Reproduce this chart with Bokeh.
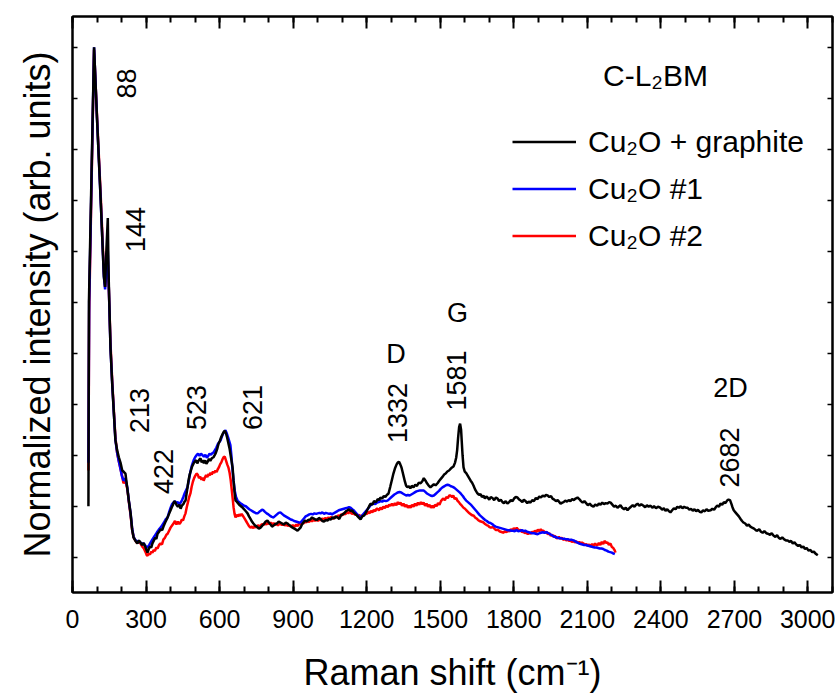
from bokeh.plotting import figure
from bokeh.models import (Range1d, FixedTicker, LinearAxis, Label, Legend,
                          LegendItem, CustomJSTickFormatter, Title)
from bokeh.embed import file_html
from bokeh.resources import INLINE
import math

# ---------------- data (Raman shift cm^-1, normalized intensity) ----------------
cu2o_graphite = [
 (65,.10),(67,.50),(88,1.00),(100,.86),(115,.70),(128,.55),(133,.53),(138,.60),(144,.665),(147,.56),
 (150,.50),(155,.41),(162,.34),(169,.28),(175,.23),(182,.21),(189,.196),(196,.185),(203,.17),(210,.167),
 (216,.164),(223,.137),(230,.11),(237,.086),(243,.055),(249,.039),(257,.032),(265,.027),(271,.033),(277,.029),
 (284,.024),(290,.028),(298,.019),(306,.009),(311,.016),(316,.021),(321,.019),(326,.027),(332,.033),(337,.038),
 (342,.036),(347,.046),(353,.050),(360,.055),(366,.053),(371,.060),(378,.068),(385,.075),(392,.083),(400,.092),
 (405,.098),(410,.103),(415,.110),(420,.107),(425,.102),(430,.099),(436,.103),(441,.095),(446,.101),(452,.104),
 (457,.109),(461,.111),(467,.130),(473,.150),(478,.162),(483,.170),(488,.178),(494,.184),(500,.188),(505,.190),
 (509,.184),(513,.188),(518,.192),(522,.194),(527,.186),(531,.190),(536,.184),(541,.190),(546,.183),(551,.187),
 (557,.193),(562,.189),(568,.194),(575,.196),(580,.200),(585,.205),(590,.212),(596,.223),(601,.228),(606,.235),
 (611,.240),(616,.245),(621,.248),(626,.243),(630,.236),(636,.223),(641,.212),(645,.200),(650,.185),(653,.176),
 (657,.150),(661,.128),(665,.111),(670,.109),(675,.106),(680,.103),(685,.101),(692,.098),(700,.094),(707,.090),
 (714,.086),(720,.080),(726,.075),(732,.070),(738,.066),(745,.062),(752,.060),(760,.056),(767,.058),(774,.062),
 (782,.066),(788,.070),(795,.072),(801,.068),(808,.064),(814,.060),(820,.062),(827,.065),(834,.066),(841,.070),
 (848,.068),(855,.066),(862,.064),(870,.068),(877,.066),(884,.063),(892,.060),(898,.058),(905,.056),(912,.054),
 (918,.052),(924,.055),(930,.058),(936,.064),(942,.068),(948,.072),(955,.070),(962,.073),(970,.074),(977,.078),
 (983,.076),(990,.074),(998,.073),(1005,.077),(1012,.075),(1019,.071),(1026,.070),(1033,.073),(1040,.072),(1047,.075),
 (1054,.074),(1061,.078),(1068,.076),(1075,.080),(1081,.078),(1088,.075),(1095,.082),(1102,.084),(1108,.086),(1115,.090),
 (1122,.092),(1128,.094),(1135,.090),(1141,.092),(1146,.088),(1153,.085),(1160,.082),(1167,.078),(1175,.074),(1182,.080),
 (1190,.082),(1197,.088),(1205,.095),(1210,.100),(1216,.105),(1223,.103),(1230,.110),(1238,.108),(1245,.114),(1251,.112),
 (1256,.117),(1263,.115),(1270,.120),(1276,.118),(1282,.122),(1289,.125),(1296,.138),(1303,.152),(1309,.164),(1316,.175),
 (1322,.182),(1327,.186),(1332,.187),(1337,.182),(1342,.176),(1346,.168),(1351,.158),(1356,.148),(1361,.140),(1366,.137),
 (1372,.139),(1378,.135),(1384,.140),(1391,.137),(1398,.142),(1405,.140),(1412,.146),(1420,.145),(1427,.149),(1433,.155),
 (1440,.150),(1446,.145),(1452,.141),(1460,.137),(1467,.140),(1474,.143),(1481,.141),(1489,.145),(1496,.150),(1503,.154),
 (1510,.158),(1516,.162),(1522,.164),(1529,.168),(1536,.170),(1542,.173),(1548,.176),(1554,.178),(1560,.185),(1565,.195),
 (1569,.210),(1573,.235),(1577,.255),(1581,.262),(1585,.250),(1588,.225),(1591,.200),(1595,.176),(1600,.168),(1606,.165),
 (1612,.160),(1618,.155),(1624,.150),(1630,.146),(1636,.140),(1642,.133),(1648,.128),(1652,.125),(1658,.122),(1664,.124),
 (1670,.118),(1676,.121),(1682,.115),(1688,.119),(1693,.117),(1700,.113),(1706,.118),(1713,.116),(1720,.112),(1727,.117),
 (1734,.115),(1740,.110),(1747,.113),(1754,.108),(1760,.106),(1767,.110),(1774,.105),(1781,.108),(1788,.112),(1795,.110),
 (1801,.115),(1808,.118),(1815,.117),(1822,.113),(1828,.111),(1835,.108),(1841,.113),(1848,.110),(1855,.106),(1861,.109),
 (1868,.107),(1875,.112),(1882,.110),(1890,.116),(1897,.114),(1904,.119),(1911,.117),(1918,.121),(1925,.119),(1931,.122),
 (1938,.121),(1945,.118),(1952,.120),(1958,.115),(1965,.113),(1972,.110),(1979,.112),(1986,.108),(1991,.105),(1998,.107),
 (2003,.108),(2010,.111),(2017,.109),(2024,.112),(2031,.110),(2038,.114),(2045,.112),(2052,.115),(2060,.117),(2067,.114),
 (2074,.110),(2081,.107),(2088,.110),(2095,.106),(2102,.102),(2110,.105),(2117,.101),(2125,.099),(2132,.103),(2140,.101),
 (2147,.105),(2154,.103),(2161,.107),(2168,.104),(2175,.106),(2182,.105),(2189,.108),(2195,.107),(2202,.103),(2209,.099),
 (2216,.101),(2223,.097),(2230,.100),(2235,.102),(2242,.097),(2250,.094),(2257,.097),(2264,.092),(2271,.096),(2278,.099),
 (2285,.102),(2292,.099),(2299,.103),(2305,.105),(2312,.101),(2320,.104),(2329,.101),(2336,.098),(2343,.102),(2350,.099),
 (2358,.101),(2365,.097),(2372,.100),(2380,.096),(2388,.099),(2398,.097),(2405,.093),(2412,.096),(2419,.091),(2426,.094),
 (2433,.090),(2439,.088),(2446,.092),(2453,.096),(2460,.094),(2467,.099),(2474,.097),(2481,.100),(2488,.096),(2495,.099),
 (2502,.097),(2509,.097),(2516,.093),(2523,.095),(2530,.091),(2537,.094),(2544,.090),(2551,.093),(2558,.089),(2565,.088),
 (2572,.092),(2579,.090),(2586,.094),(2593,.091),(2603,.092),(2610,.095),(2617,.093),(2624,.098),(2630,.101),(2637,.099),
 (2643,.105),(2650,.103),(2657,.108),(2663,.106),(2670,.111),(2676,.113),(2682,.112),(2688,.104),(2692,.098),(2697,.092),
 (2704,.088),(2711,.084),(2718,.080),(2725,.075),(2731,.071),(2737,.068),(2744,.066),(2751,.062),(2758,.064),(2765,.060),
 (2772,.058),(2780,.056),(2787,.053),(2794,.052),(2801,.055),(2808,.050),(2815,.048),(2822,.051),(2830,.047),(2837,.046),
 (2845,.044),(2852,.047),(2860,.042),(2867,.040),(2874,.043),(2881,.038),(2888,.036),(2895,.039),(2903,.035),(2910,.033),
 (2917,.033),(2924,.030),(2931,.032),(2938,.027),(2945,.029),(2952,.025),(2960,.022),(2967,.024),(2974,.019),(2981,.021),
 (2988,.016),(2995,.018),(3002,.013),(3010,.014),(3017,.010),(3024,.011),(3031,.007),(3040,.004),
]

cu2o_1 = [
 (65,.185),(68,.50),(88,1.00),(100,.86),(115,.70),(128,.55),(133,.525),(139,.57),(144,.60),(148,.53),
 (155,.41),(162,.34),(169,.28),(175,.23),(182,.205),(188,.19),(195,.175),(201,.160),(208,.150),(216,.155),
 (224,.135),(230,.11),(237,.086),(243,.058),(249,.040),(256,.034),(263,.030),(270,.032),(277,.029),(284,.026),
 (291,.027),(298,.022),(306,.019),(313,.024),(320,.030),(326,.035),(333,.040),(340,.045),(346,.050),(352,.054),
 (359,.058),(366,.063),(373,.068),(380,.074),(388,.078),(395,.090),(401,.098),(406,.104),(412,.107),(418,.110),
 (424,.106),(430,.108),(436,.104),(441,.107),(447,.112),(452,.118),(458,.126),(464,.132),(469,.137),(475,.152),
 (481,.168),(487,.180),(494,.190),(500,.196),(506,.200),(512,.203),(518,.199),(524,.203),(530,.200),(536,.197),
 (542,.201),(548,.195),(553,.198),(559,.203),(565,.201),(570,.204),(575,.205),(581,.210),(587,.215),(593,.222),
 (599,.226),(604,.229),(609,.236),(614,.242),(619,.246),(624,.249),(629,.243),(634,.236),(639,.228),(644,.220),
 (648,.200),(652,.175),(657,.150),(662,.130),(667,.118),(673,.111),(680,.108),(687,.105),(694,.103),(700,.101),
 (707,.100),(714,.097),(721,.094),(728,.092),(735,.090),(742,.088),(748,.086),(755,.086),(762,.089),(768,.091),
 (773,.093),(779,.092),(785,.089),(792,.086),(799,.084),(806,.081),(813,.079),(820,.078),(827,.081),(834,.084),
 (841,.087),(848,.088),(855,.085),(862,.082),(869,.080),(876,.078),(883,.076),(890,.074),(897,.073),(904,.071),
 (911,.070),(918,.069),(924,.068),(930,.068),(937,.072),(944,.076),(951,.080),(959,.082),(966,.084),(973,.085),
 (980,.084),(987,.086),(994,.085),(1000,.086),(1007,.087),(1012,.086),(1019,.088),(1026,.085),(1033,.087),(1040,.086),
 (1047,.085),(1052,.086),(1059,.084),(1065,.086),(1072,.088),(1079,.090),(1086,.092),(1093,.093),(1100,.094),(1107,.095),
 (1114,.096),(1122,.097),(1128,.098),(1134,.097),(1141,.094),(1147,.092),(1154,.088),(1161,.084),(1168,.080),(1175,.078),
 (1182,.082),(1189,.086),(1196,.090),(1203,.094),(1210,.098),(1216,.102),(1222,.104),(1228,.105),(1235,.104),(1242,.107),
 (1249,.108),(1256,.110),(1263,.109),(1270,.111),(1278,.110),(1285,.111),(1292,.114),(1299,.117),(1306,.120),(1313,.123),
 (1320,.125),(1327,.127),(1334,.128),(1340,.127),(1347,.125),(1354,.123),(1361,.121),(1368,.122),(1375,.121),(1382,.123),
 (1389,.125),(1396,.127),(1403,.129),(1410,.130),(1417,.131),(1425,.131),(1432,.131),(1439,.128),(1446,.125),(1453,.123),
 (1460,.121),(1467,.120),(1474,.121),(1481,.124),(1488,.127),(1495,.130),(1502,.134),(1509,.137),(1516,.139),(1523,.141),
 (1530,.142),(1537,.141),(1544,.139),(1551,.138),(1558,.136),(1565,.133),(1572,.130),(1579,.127),(1585,.124),(1592,.120),
 (1599,.115),(1606,.111),(1613,.108),(1620,.105),(1627,.102),(1634,.098),(1641,.094),(1648,.090),(1655,.086),(1662,.082),
 (1669,.079),(1676,.076),(1683,.073),(1690,.071),(1697,.068),(1705,.067),(1712,.065),(1719,.062),(1726,.060),(1733,.059),
 (1740,.058),(1747,.057),(1754,.056),(1761,.055),(1768,.054),(1775,.053),(1782,.053),(1790,.052),(1797,.052),(1804,.051),
 (1811,.053),(1818,.051),(1826,.052),(1833,.053),(1840,.051),(1847,.052),(1854,.050),(1861,.049),(1868,.048),(1875,.047),
 (1883,.047),(1890,.046),(1897,.045),(1904,.047),(1911,.048),(1918,.049),(1925,.048),(1932,.049),(1938,.048),(1945,.046),
 (1952,.044),(1959,.042),(1966,.040),(1973,.039),(1980,.038),(1987,.037),(1994,.037),(2001,.036),(2008,.036),(2015,.035),
 (2022,.035),(2030,.034),(2037,.034),(2044,.033),(2051,.031),(2058,.029),(2066,.027),(2073,.026),(2080,.025),(2087,.024),
 (2094,.024),(2101,.023),(2108,.022),(2115,.021),(2122,.020),(2130,.019),(2137,.019),(2144,.018),(2151,.017),(2158,.017),
 (2165,.016),(2172,.014),(2179,.013),(2186,.011),(2193,.010),(2200,.009),(2207,.007),(2212,.006),
]

cu2o_2 = [
 (65,.17),(68,.48),(88,.995),(100,.865),(115,.71),(128,.56),(133,.53),(139,.56),(144,.58),(148,.53),
 (155,.42),(162,.345),(169,.285),(175,.235),(182,.205),(188,.19),(195,.175),(202,.16),(208,.145),(216,.150),
 (224,.133),(230,.108),(237,.082),(243,.055),(249,.039),(256,.033),(263,.028),(270,.031),(277,.027),(284,.021),
 (291,.017),(298,.010),(303,.004),(306,.003),(311,.007),(316,.005),(321,.011),(326,.009),(331,.014),(336,.012),
 (342,.019),(347,.017),(353,.024),(359,.027),(365,.025),(371,.035),(377,.038),(383,.044),(388,.046),(394,.052),
 (400,.058),(406,.062),(412,.066),(418,.071),(424,.064),(430,.070),(436,.065),(441,.068),(446,.074),(451,.072),
 (456,.080),(461,.086),(466,.098),(471,.108),(476,.118),(481,.125),(486,.138),(491,.148),(496,.155),(501,.160),
 (506,.164),(511,.162),(516,.155),(521,.158),(526,.152),(531,.156),(535,.150),(540,.156),(545,.161),(550,.157),
 (555,.163),(559,.160),(563,.166),(568,.162),(573,.168),(578,.165),(583,.170),(588,.167),(592,.172),(597,.176),
 (602,.182),(607,.186),(612,.192),(616,.196),(621,.197),(626,.190),(631,.182),(636,.176),(641,.165),(645,.152),
 (649,.135),(653,.117),(657,.098),(661,.085),(665,.078),(670,.083),(675,.080),(680,.084),(685,.081),(690,.085),
 (694,.082),(699,.078),(704,.074),(709,.070),(714,.066),(720,.061),(726,.058),(732,.060),(738,.057),(744,.061),
 (750,.058),(756,.063),(761,.060),(767,.062),(773,.065),(779,.063),(785,.067),(791,.064),(797,.068),(803,.065),
 (808,.068),(814,.064),(820,.067),(826,.063),(832,.066),(838,.062),(843,.065),(848,.066),(854,.063),(860,.066),
 (866,.062),(872,.065),(878,.061),(884,.063),(890,.060),(895,.062),(901,.062),(907,.060),(913,.064),(918,.061),
 (924,.066),(930,.064),(936,.068),(942,.066),(948,.070),(953,.068),(959,.072),(965,.069),(971,.073),(977,.070),
 (983,.074),(989,.071),(995,.074),(1001,.071),(1007,.075),(1012,.072),(1018,.076),(1024,.073),(1030,.077),(1036,.074),
 (1042,.078),(1048,.075),(1054,.079),(1060,.076),(1065,.076),(1071,.080),(1077,.078),(1083,.082),(1089,.080),(1095,.084),
 (1101,.082),(1107,.086),(1113,.084),(1119,.088),(1125,.086),(1130,.089),(1134,.088),(1140,.085),(1146,.087),(1152,.083),
 (1158,.085),(1164,.081),(1170,.083),(1175,.078),(1181,.082),(1187,.082),(1193,.087),(1199,.084),(1205,.089),(1211,.086),
 (1217,.091),(1223,.088),(1229,.093),(1235,.090),(1240,.095),(1244,.095),(1250,.092),(1256,.097),(1262,.094),(1268,.099),
 (1274,.096),(1280,.101),(1286,.098),(1292,.103),(1297,.101),(1303,.105),(1309,.101),(1315,.106),(1321,.102),(1327,.108),
 (1333,.104),(1338,.107),(1344,.101),(1350,.105),(1356,.099),(1362,.103),(1368,.097),(1374,.101),(1379,.097),(1385,.103),
 (1391,.099),(1397,.105),(1403,.101),(1409,.107),(1415,.103),(1421,.108),(1427,.104),(1432,.107),(1438,.101),(1444,.105),
 (1450,.099),(1456,.103),(1462,.097),(1468,.101),(1473,.097),(1479,.103),(1485,.100),(1491,.106),(1497,.103),(1503,.110),
 (1508,.113),(1513,.115),(1519,.112),(1525,.118),(1531,.116),(1537,.121),(1542,.121),(1548,.118),(1553,.121),(1559,.114),
 (1565,.116),(1570,.111),(1576,.108),(1582,.104),(1588,.101),(1595,.097),(1601,.095),(1607,.092),(1613,.089),(1619,.086),
 (1625,.084),(1631,.082),(1636,.082),(1642,.078),(1648,.076),(1654,.073),(1660,.071),(1666,.070),(1672,.069),(1677,.068),
 (1683,.065),(1689,.063),(1695,.062),(1701,.059),(1707,.058),(1713,.059),(1717,.058),(1723,.055),(1729,.053),(1735,.054),
 (1741,.051),(1747,.050),(1753,.049),(1758,.048),(1764,.051),(1770,.049),(1776,.053),(1782,.050),(1788,.055),(1794,.052),
 (1800,.057),(1806,.054),(1812,.058),(1815,.056),(1821,.052),(1827,.054),(1833,.049),(1839,.051),(1845,.047),(1851,.049),
 (1857,.045),(1862,.048),(1868,.046),(1874,.050),(1880,.047),(1886,.052),(1892,.049),(1898,.054),(1904,.051),(1910,.055),
 (1915,.052),(1921,.052),(1927,.048),(1933,.050),(1939,.045),(1945,.047),(1951,.042),(1957,.044),(1962,.040),(1968,.042),
 (1973,.038),(1978,.037),(1984,.040),(1990,.036),(1996,.038),(2002,.034),(2008,.036),(2014,.033),(2020,.035),(2025,.032),
 (2031,.033),(2037,.030),(2043,.032),(2049,.029),(2055,.031),(2061,.028),(2067,.030),(2073,.027),(2078,.029),(2084,.027),
 (2090,.024),(2096,.026),(2102,.022),(2108,.025),(2114,.021),(2120,.026),(2126,.022),(2132,.027),(2137,.024),(2141,.023),
 (2147,.028),(2153,.024),(2159,.030),(2165,.026),(2171,.032),(2177,.028),(2182,.029),(2188,.024),(2194,.027),(2200,.020),
 (2206,.018),(2211,.014),(2215,.009),
]

series_labels = ["Cu\u2082O + graphite", "Cu\u2082O #1", "Cu\u2082O #2"]
series_colors = ["black", "#0000ff", "#ff0000"]

peak_labels = ["88", "144", "213", "422", "523", "621", "1332", "1581", "2682"]
peak_label_x = [220, 259, 273, 371, 504, 734, 1324, 1568, 2680]
peak_label_y = [0.929, 0.6425, 0.2876, 0.168, 0.2935, 0.2935, 0.2827, 0.3465, 0.1955]

band_labels = ["D", "G", "2D"]
band_label_x = [1320, 1570, 2684]
band_label_y = [0.3975, 0.478, 0.331]

x_ticks = list(range(0, 3001, 300))
x_minor = list(range(0, 3101, 100))
y_ticks = [round(0.1 * i, 1) for i in range(0, 11)]

FONT = "Liberation Sans"

# ---------------- figure ----------------
p = figure(width=835, height=697, x_range=Range1d(0, 3100), y_range=Range1d(-0.0692, 1.0602),
           output_backend="svg", toolbar_location=None,
           min_border_left=72, min_border_right=3, min_border_top=16, min_border_bottom=105)
p.grid.visible = False
p.outline_line_color = "black"
p.outline_line_width = 2
p.background_fill_color = "white"
p.border_fill_color = "white"

xt = FixedTicker(ticks=x_ticks, minor_ticks=x_minor)
yt = FixedTicker(ticks=y_ticks, minor_ticks=[])
blank = CustomJSTickFormatter(code="return ''")

xa = p.xaxis[0]
xa.ticker = xt
xa.axis_line_width = 2
xa.major_tick_line_width = 2
xa.minor_tick_line_width = 2
xa.major_tick_in = 12
xa.major_tick_out = 0
xa.minor_tick_in = 6
xa.minor_tick_out = 0
xa.major_label_text_font = FONT
xa.major_label_text_font_size = "25px"
xa.major_label_text_color = "black"
xa.major_label_standoff = 17
xa.axis_label = "Raman shift (cm\u207b\u00b9)"
xa.axis_label_text_font = FONT
xa.axis_label_text_font_size = "36px"
xa.axis_label_text_font_style = "normal"
xa.axis_label_text_color = "black"
xa.axis_label_standoff = 21

ya = p.yaxis[0]
ya.ticker = yt
ya.formatter = blank
ya.axis_line_width = 2
ya.major_tick_line_width = 1.5
ya.major_tick_in = 5
ya.major_tick_out = 0
ya.minor_tick_in = 0
ya.minor_tick_out = 0
ya.major_label_text_font_size = "0px"
ya.major_label_standoff = 0

top = LinearAxis(ticker=xt, formatter=blank, axis_line_width=2, major_tick_line_width=2,
                 minor_tick_line_width=2, major_tick_in=12, major_tick_out=0,
                 minor_tick_in=6, minor_tick_out=0, major_label_text_font_size="0px",
                 major_label_standoff=0)
p.add_layout(top, "above")
right = LinearAxis(ticker=yt, formatter=blank, axis_line_width=2, major_tick_line_width=1.5,
                   major_tick_in=5, major_tick_out=0, minor_tick_in=0, minor_tick_out=0,
                   major_label_text_font_size="0px", major_label_standoff=0)
p.add_layout(right, "right")

# y-axis title
p.add_layout(Title(text="Normalized intensity (arb. units)", align="center", offset=19,
                   vertical_align="bottom", standoff=29, text_font=FONT, text_font_size="36px",
                   text_font_style="normal", text_color="black"), "left")

# ---------------- lines ----------------
def unzip(pairs):
    return [a for a, _ in pairs], [b for _, b in pairs]

rx, ry = unzip(cu2o_2)
bx, by = unzip(cu2o_1)
kx, ky = unzip(cu2o_graphite)
r_red = p.line(rx, ry, color=series_colors[2], line_width=2.5)
r_blue = p.line(bx, by, color=series_colors[1], line_width=2.5)
r_black = p.line(kx, ky, color=series_colors[0], line_width=2.5)

legend = Legend(items=[LegendItem(label=series_labels[0], renderers=[r_black]),
                       LegendItem(label=series_labels[1], renderers=[r_blue]),
                       LegendItem(label=series_labels[2], renderers=[r_red])],
                location=(440, 333), orientation="vertical",
                label_text_font=FONT, label_text_font_size="30px", label_text_color="black",
                glyph_width=64, glyph_height=47, label_height=47, spacing=0, padding=0, margin=0,
                label_standoff=12, border_line_color=None, background_fill_alpha=0)
p.add_layout(legend)

p.add_layout(Label(x=2378, y=0.9445, text="C-L\u2082BM", text_font=FONT, text_font_size="30px",
                   text_align="center", text_baseline="middle", text_color="black"))

for t, x, y in zip(peak_labels, peak_label_x, peak_label_y):
    p.add_layout(Label(x=x, y=y, text=t, angle=math.pi / 2, text_font=FONT, text_font_size="27px",
                       text_align="center", text_baseline="middle", text_color="black"))
for t, x, y in zip(band_labels, band_label_x, band_label_y):
    p.add_layout(Label(x=x, y=y, text=t, text_font=FONT, text_font_size="27px",
                       text_align="center", text_baseline="middle", text_color="black"))

open("out.html", "w").write(file_html(p, INLINE))
